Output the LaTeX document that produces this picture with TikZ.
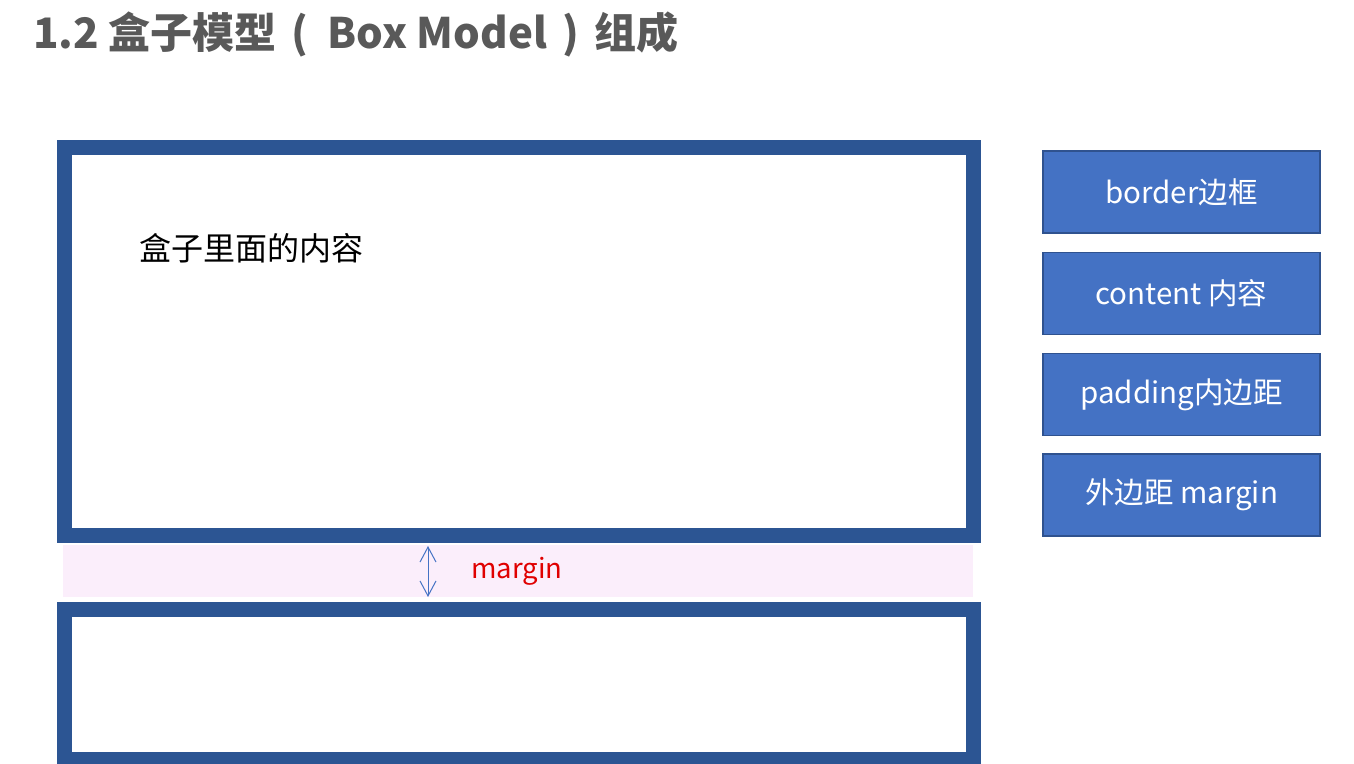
\documentclass[tikz,border=0pt]{standalone}
\usepackage{fontspec}
\setmainfont{Noto Sans CJK SC}
\usetikzlibrary{arrows.meta}
\definecolor{boxblue}{HTML}{2C5593}
\definecolor{sideblue}{HTML}{4472C4}
\definecolor{sideedge}{HTML}{2F528F}
\definecolor{bandpink}{HTML}{FBEEFB}
\definecolor{titlegray}{HTML}{595959}
\definecolor{mred}{HTML}{E00000}
\begin{document}
\begin{tikzpicture}[x=1pt,y=-1pt,
  bigbox/.style={draw=boxblue, line width=15pt, fill=white, inner sep=0pt, anchor=north west},
  sidebox/.style={draw=sideedge, line width=1.5pt, fill=sideblue, text=white,
    minimum width=277pt, minimum height=82pt, inner sep=0pt,
    font=\fontsize{29.5}{34}\selectfont},
  arr/.style={draw=sideblue, line width=1pt, {Straight Barb[length=15pt,width=16pt]}-{Straight Barb[length=15pt,width=16pt]}}
]
\useasboundingbox (0,0) rectangle (1354,763);
\fill[white] (0,0) rectangle (1354,763);
% title
\node[anchor=west, text=titlegray, inner sep=0pt, font=\fontsize{42}{48}\selectfont\bfseries] (title) at (33,34)
  {1.2 盒子模型\hspace{15pt}(\hspace{19pt}Box Model\hspace{15pt})\hspace{16pt}组成};
% pink margin band
\node[fill=bandpink, minimum width=910pt, minimum height=52pt, inner sep=0pt, anchor=north west] (band) at (63,545) {};
% boxes
\node[bigbox, minimum width=909pt, minimum height=388pt] (topbox) at (57,140) {};
\node[bigbox, minimum width=909pt, minimum height=150pt] (botbox) at (57,602) {};
\node[anchor=west, inner sep=0pt, font=\fontsize{32}{38}\selectfont] (content) at (139,248) {盒子里面的内容};
% margin arrow
\coordinate (m1) at (428,546);
\coordinate (m2) at (428,597);
\draw[arr] (m1) -- (m2);
\node[anchor=west, inner sep=0pt, text=mred, font=\fontsize{27.5}{32}\selectfont] (mlabel) at (471,571) {margin};
% side boxes
\node[sidebox] (b1) at (1181.5,192) {border边框};
\node[sidebox] (b2) at (1181.5,293.5) {content 内容};
\node[sidebox] (b3) at (1181.5,394.5) {padding内边距};
\node[sidebox] (b4) at (1181.5,495) {外边距 margin};
\end{tikzpicture}
\end{document}
